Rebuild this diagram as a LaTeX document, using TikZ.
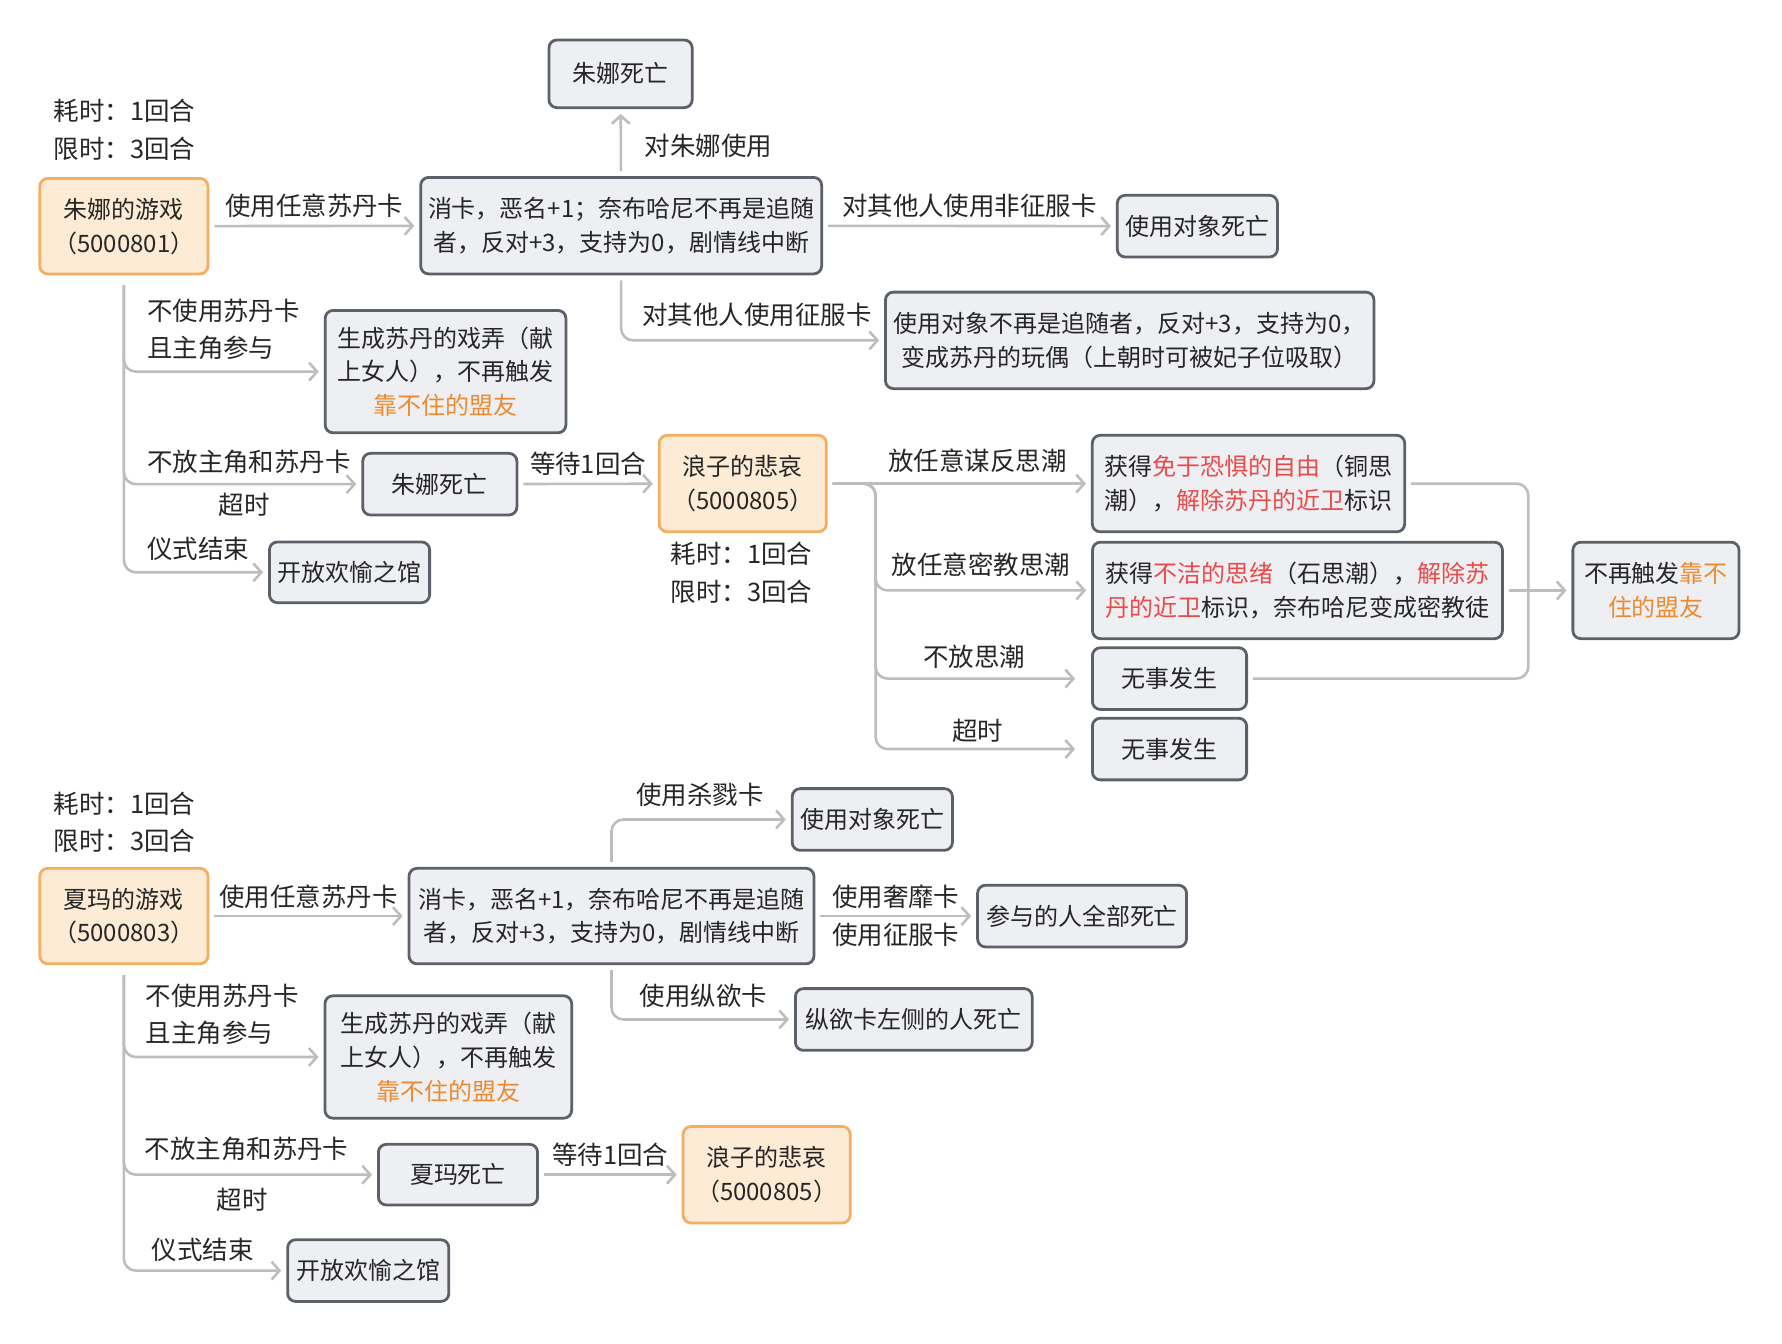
\documentclass[tikz,border=0pt]{standalone}
\usepackage{fontspec}
\setmainfont{Noto Sans CJK SC}
\usepackage{tikz}
\usetikzlibrary{arrows.meta}

\definecolor{gamefill}{HTML}{FDEBD5}
\definecolor{gameedge}{HTML}{F4AE62}
\definecolor{cardfill}{HTML}{EEEFF2}
\definecolor{cardedge}{HTML}{5C6169}
\definecolor{linkgray}{HTML}{BDBDBD}
\definecolor{hot}{HTML}{E94B4B}
\definecolor{warm}{HTML}{EC8A32}
\definecolor{ink}{HTML}{262626}

\tikzset{
  game/.style={draw=gameedge, fill=gamefill, line width=1.4pt, rounded corners=4pt, inner sep=0pt, align=center, font=\fontsize{12.05}{17}\selectfont},
  card/.style={draw=cardedge, fill=cardfill, line width=1.4pt, rounded corners=4pt, inner sep=0pt, align=center, font=\fontsize{12.05}{17}\selectfont},
  link/.style={draw=linkgray, line width=1.3pt, rounded corners=6pt, -{Straight Barb[length=4pt,width=9pt]}, shorten >=2.5pt, shorten <=2.5pt},
  note/.style={anchor=west, inner sep=0pt, align=left},
  timing/.style={note, font=\fontsize{12.8}{19}\selectfont}
}

\begin{document}
\begin{tikzpicture}[x=0.5pt, y=-0.5pt, text=ink, font=\fontsize{12.8}{18.3}\selectfont]
\useasboundingbox (0,0) rectangle (1791,1350);

% Zhuna's game
\node[timing] (time1) at (53.7,130.8){耗时：1回合\\限时：3回合};
\node[game, minimum width=84.5pt, minimum height=48pt] (zhunagame) at (124.5,227.3){朱娜的游戏\\（5000801）};
\node[card, minimum width=201.5pt, minimum height=48.5pt] (consume1) at (624.3,226.8){消卡，恶名+1；奈布哈尼不再是追随\\者，反对+3，支持为0，剧情线中断};
\node[card, minimum width=72pt, minimum height=34pt] (zhunadie1) at (623.7,74.2){朱娜死亡};
\node[card, minimum width=80.5pt, minimum height=31pt] (targetdie1) at (1203.4,227.3){使用对象死亡};
\node[card, minimum width=245.5pt, minimum height=48.5pt] (puppet) at (1135.4,342.1){使用对象不再是追随者，反对+3，支持为0，\\变成苏丹的玩偶（上朝时可被妃子位吸取）};
\node[card, minimum width=121pt, minimum height=61.5pt] (toy1) at (447.8,373.5){生成苏丹的戏弄（献\\上女人），不再触发\\\textcolor{warm}{靠不住的盟友}};
\node[card, minimum width=77.5pt, minimum height=31pt] (zhunadie2) at (442,486.6){朱娜死亡};
\node[card, minimum width=80.5pt, minimum height=30.5pt] (open1) at (351.3,575.2){开放欢愉之馆};
\node[game, minimum width=84pt, minimum height=48.5pt] (lament1) at (746.5,486){浪子的悲哀\\（5000805）};
\node[timing] (time2) at (673.9,575.7){耗时：1回合\\限时：3回合};
\node[card, minimum width=157pt, minimum height=48.5pt] (gain1) at (1254.8,486){获得\textcolor{hot}{免于恐惧的自由}（铜思\\潮），\textcolor{hot}{解除苏丹的近卫}标识};
\node[card, minimum width=206pt, minimum height=48.5pt] (gain2) at (1304,593.4){获得\textcolor{hot}{不洁的思绪}（石思潮），\textcolor{hot}{解除苏}\\\textcolor{hot}{丹的近卫}标识，奈布哈尼变成密教徒};
\node[card, minimum width=77.5pt, minimum height=31pt] (nothing1) at (1175.4,682){无事发生};
\node[card, minimum width=77.5pt, minimum height=31pt] (nothing2) at (1175.4,752.8){无事发生};
\node[card, minimum width=83.5pt, minimum height=48.5pt] (notrigger) at (1664.3,593.4){不再触发\textcolor{warm}{靠不}\\\textcolor{warm}{住的盟友}};
\coordinate (fork1) at (880,486);
\coordinate (merge1) at (1536,593.4);

% Xiama's game
\node[timing] (time3) at (53.7,826.5){耗时：1回合\\限时：3回合};
\node[game, minimum width=84.5pt, minimum height=48pt] (xiamagame) at (124.5,920.7){夏玛的游戏\\（5000803）};
\node[card, minimum width=203.5pt, minimum height=48pt] (consume2) at (614.6,920.7){消卡，恶名+1，奈布哈尼不再是追随\\者，反对+3，支持为0，剧情线中断};
\node[card, minimum width=80.5pt, minimum height=31pt] (targetdie2) at (876.7,823.6){使用对象死亡};
\node[card, minimum width=105pt, minimum height=31pt] (alldie) at (1087.5,920.7){参与的人全部死亡};
\node[card, minimum width=119pt, minimum height=31pt] (leftdie) at (918.4,1024.6){纵欲卡左侧的人死亡};
\node[card, minimum width=124pt, minimum height=61.5pt] (toy2) at (450.6,1062.3){生成苏丹的戏弄（献\\上女人），不再触发\\\textcolor{warm}{靠不住的盟友}};
\node[card, minimum width=80pt, minimum height=30.5pt] (xiamadie) at (460.3,1180.6){夏玛死亡};
\node[card, minimum width=81pt, minimum height=31pt] (open2) at (370.1,1277){开放欢愉之馆};
\node[game, minimum width=84pt, minimum height=48.5pt] (lament2) at (770.5,1180.6){浪子的悲哀\\（5000805）};

% straight links
\foreach \from/\to/\say in
{zhunagame/consume1/使用任意苏丹卡,consume1/targetdie1/对其他人使用非征服卡,zhunadie2/lament1/等待1回合,
 xiamagame/consume2/使用任意苏丹卡,consume2/alldie/使用奢靡卡,xiamadie/lament2/等待1回合}
\draw[link] (\from) -- node[above]{\say} (\to);
\path (consume2) -- node[below]{使用征服卡} (alldie);

% elbow links
\draw[link] (consume1) -- (zhunadie1);
\node[note] (say1) at (647.6,146.2){对朱娜使用};
\draw[link] (consume1.south) |- (puppet.west);
\node (say2) at (760.8,316.4){对其他人使用征服卡};
\foreach \to in {toy1,zhunadie2,open1}
\draw[link, shorten <=5pt] (zhunagame.south) |- (\to.west);
\node[note] (say3) at (147.4,331){不使用苏丹卡\\且主角参与};
\node[note] (say4) at (147.4,463.8){不放主角和苏丹卡};
\node (say5) at (245.6,507.2){超时};
\node[note] (say6) at (147.4,551.7){仪式结束};

\draw[link] (lament1) -- (gain1);
\draw[link] (lament1.east) -- (fork1) |- (gain2.west);
\foreach \to in {nothing1,nothing2}
\draw[link, shorten >=8pt] (lament1.east) -- (fork1) |- (\to.west);
\node (say7) at (982.4,462.6){放任意谋反思潮};
\node (say8) at (985.8,567.7){放任意密教思潮};
\node (say9) at (979,660.2){不放思潮};
\node (say10) at (982.4,734.5){超时};
\draw[link, -, shorten >=0pt] (gain1.east) -| (merge1);
\draw[link, -, shorten >=0pt] (nothing1.east) -| (merge1);
\draw[link] (gain2) -- (notrigger);

\draw[link] (consume2.north) |- (targetdie2.west);
\node (say11) at (703.7,798.5){使用杀戮卡};
\draw[link] (consume2.south) |- (leftdie.west);
\node (say12) at (707.1,1000.7){使用纵欲卡};
\foreach \to in {toy2,xiamadie,open2}
\draw[link, shorten <=5pt] (xiamagame.south) |- (\to.west);
\node[note] (say13) at (146.2,1019.5){不使用苏丹卡\\且主角参与};
\node[note] (say14) at (145,1154.9){不放主角和苏丹卡};
\node (say15) at (243.3,1206.3){超时};
\node[note] (say16) at (152,1256.5){仪式结束};
\end{tikzpicture}
\end{document}
